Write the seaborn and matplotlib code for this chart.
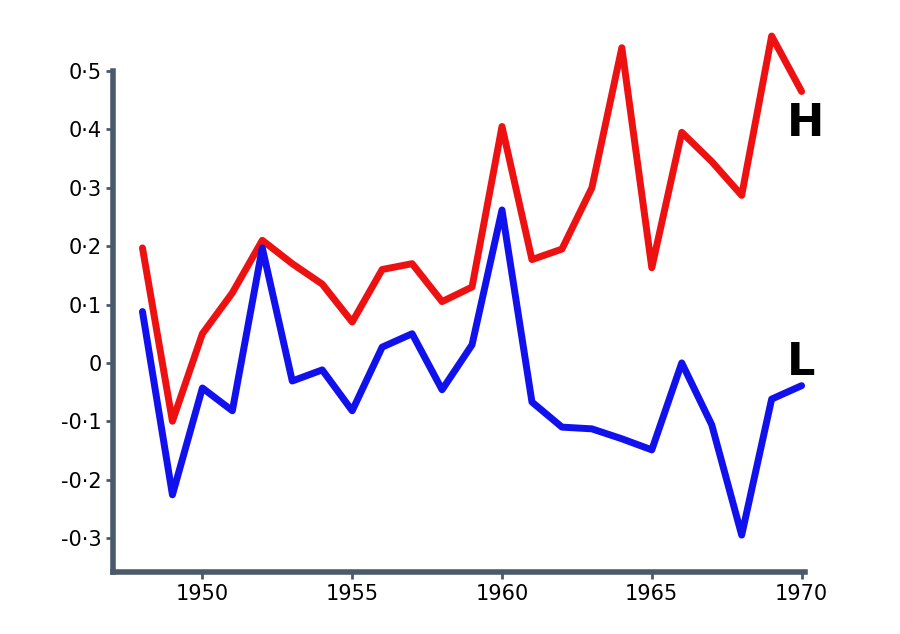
import numpy as np
import pandas as pd
import matplotlib
matplotlib.use("Agg")
import matplotlib.pyplot as plt
import seaborn as sns

years = list(range(1948, 1971))
high = [0.197, -0.10, 0.05, 0.12, 0.21, 0.17, 0.135, 0.07, 0.16, 0.17, 0.105, 0.13,
        0.405, 0.177, 0.195, 0.30, 0.54, 0.163, 0.395, 0.345, 0.287, 0.56, 0.465]
low = [0.088, -0.226, -0.043, -0.082, 0.197, -0.031, -0.012, -0.082, 0.027, 0.05, -0.046, 0.031,
       0.262, -0.067, -0.11, -0.113, -0.13, -0.149, 0.0, -0.106, -0.295, -0.062, -0.039]
yticks = [-0.3, -0.2, -0.1, 0, 0.1, 0.2, 0.3, 0.4, 0.5]
ytick_labels = ["-0·3", "-0·2", "-0·1", "0", "0·1", "0·2", "0·3", "0·4", "0·5"]
xticks = [1950, 1955, 1960, 1965, 1970]

sns.set_style("white")
plt.rcParams['font.family'] = ['DejaVu Sans']

df = pd.DataFrame({"year": years, "H": high, "L": low})

fig = plt.figure(figsize=(9, 6.34), dpi=100)
ax = fig.add_axes([0.126, 0.098, 0.768, 0.882])

sns.lineplot(data=df, x="year", y="H", color="#ee1111", linewidth=5, ax=ax, clip_on=False)
sns.lineplot(data=df, x="year", y="L", color="#1111ee", linewidth=5, ax=ax, clip_on=False)

ax.set_xlim(1947.03, 1970.1)
ax.set_ylim(-0.358, 0.6)
ax.set_yticks(yticks)
ax.set_yticklabels(ytick_labels)
ax.set_xticks(xticks)
ax.set_xlabel("")
ax.set_ylabel("")
ax.tick_params(left=True, bottom=True, labelsize=15, length=5, width=2,
               color="#4a5a6a", labelcolor="black", direction="out")

for s in ["top", "right"]:
    ax.spines[s].set_visible(False)
for s in ["left", "bottom"]:
    ax.spines[s].set_color("#4a5a6a")
    ax.spines[s].set_linewidth(4)
ax.spines["left"].set_bounds(-0.358, 0.5)

ax.text(1969.5, 0.41, "H", fontsize=32, fontweight="bold", color="black", ha="left", va="center")
ax.text(1969.5, 0.0, "L", fontsize=32, fontweight="bold", color="black", ha="left", va="center")

fig.savefig("out.png", dpi=100)
